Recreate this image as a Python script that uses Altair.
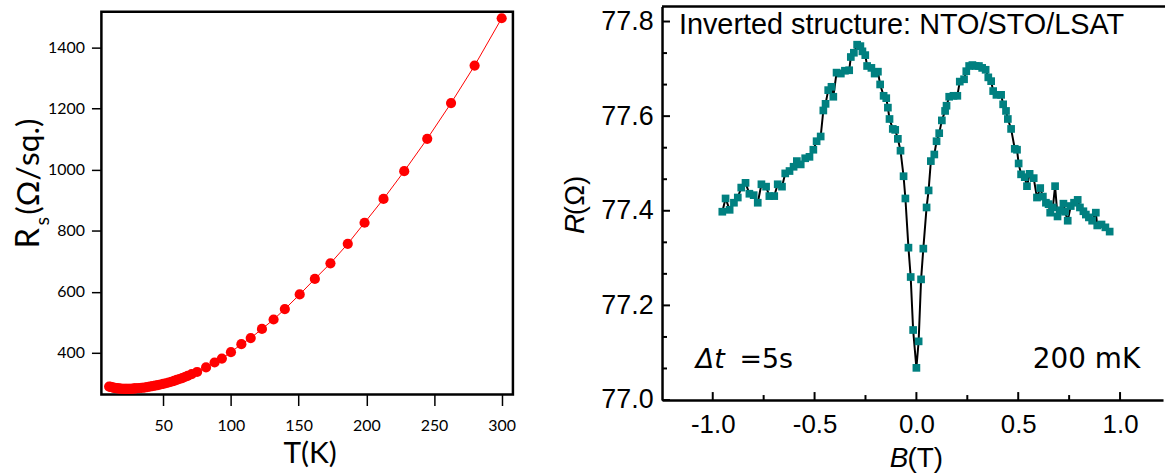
import altair as alt
import pandas as pd

# ---------------- Left panel data: sheet resistance vs temperature ----------------
T_K = [10, 11, 12, 13, 14, 15, 16, 17, 18, 19, 20, 21, 22, 23, 24, 25, 26, 27, 28, 29, 30,
       32, 34, 36, 38, 40, 42, 44, 46, 48, 50, 52, 54, 56, 58, 60, 62, 64, 66, 68,
       71, 75, 81.6, 87.9, 93.3, 100, 107.7, 114.6, 122.9, 131.5, 139.8, 150.8,
       162, 173.5, 186.3, 198.7, 212.7, 228, 245, 262.6, 280, 300]
RS = [289, 288, 287, 286, 285, 284, 283.5, 283, 282.5, 282, 282, 281.5, 281.5, 281.5, 281.5, 281.5, 282, 282, 282.5, 283, 283.5,
      284, 285, 286, 287.5, 289, 290.5, 292, 294, 296, 298, 300, 302.5, 305, 308, 311, 314, 317, 320.5, 324,
      330, 337, 352, 368, 381, 402, 428, 448, 478, 509, 543, 591,
      642, 693, 757, 826, 904, 995, 1101, 1218, 1341, 1496]
T_TICKS = [50, 100, 150, 200, 250, 300]
RS_TICKS = [400, 600, 800, 1000, 1200, 1400]

# ---------------- Right panel data: magnetoresistance ----------------
B_T = [-0.953, -0.937, -0.917, -0.896, -0.877, -0.860, -0.839, -0.820, -0.799, -0.779,
       -0.761, -0.738, -0.722, -0.698, -0.681, -0.660, -0.644, -0.623, -0.603, -0.587,
       -0.568, -0.546, -0.525, -0.506, -0.490, -0.470, -0.457, -0.446, -0.433, -0.417,
       -0.408, -0.392, -0.371, -0.351, -0.330, -0.322, -0.307, -0.291, -0.275, -0.265,
       -0.251, -0.242, -0.221, -0.205, -0.189, -0.178, -0.161, -0.148, -0.140, -0.132,
       -0.116, -0.104, -0.091, -0.078, -0.063, -0.054,
       -0.039, -0.028, -0.016, 0.000, 0.011, 0.023, 0.034,
       0.050, 0.060, 0.071, 0.088, 0.099, 0.112, 0.125, 0.141, 0.148, 0.161,
       0.182, 0.201, 0.213, 0.234, 0.245, 0.259, 0.275, 0.291, 0.307, 0.323,
       0.340, 0.353, 0.367, 0.377, 0.393, 0.416, 0.426, 0.440, 0.449, 0.465,
       0.483, 0.494, 0.502, 0.514, 0.532, 0.543, 0.556, 0.576, 0.592, 0.608,
       0.621, 0.636, 0.649, 0.657, 0.670, 0.681, 0.693, 0.705, 0.722, 0.730,
       0.743, 0.758, 0.774, 0.792, 0.803, 0.820, 0.832, 0.847, 0.863, 0.881,
       0.888, 0.909, 0.928, 0.949]
R_OHM = [77.398, 77.426, 77.402, 77.417, 77.428, 77.449, 77.459, 77.436, 77.433, 77.417,
         77.456, 77.451, 77.431, 77.431, 77.456, 77.451, 77.479, 77.484, 77.493, 77.505,
         77.498, 77.511, 77.514, 77.529, 77.547, 77.557, 77.612, 77.626, 77.655, 77.662,
         77.641, 77.692, 77.690, 77.696, 77.697, 77.725, 77.734, 77.751, 77.748, 77.737,
         77.729, 77.706, 77.702, 77.690, 77.694, 77.667, 77.643, 77.638, 77.618, 77.594,
         77.573, 77.571, 77.552, 77.527, 77.473, 77.426,
         77.322, 77.260, 77.148, 77.068, 77.124, 77.255, 77.320,
         77.407, 77.443, 77.505, 77.519, 77.547, 77.564, 77.591, 77.611, 77.622, 77.641,
         77.643, 77.643, 77.673, 77.678, 77.695, 77.706, 77.708, 77.706, 77.706, 77.702,
         77.698, 77.682, 77.674, 77.653, 77.645, 77.645, 77.625, 77.611, 77.594, 77.573,
         77.531, 77.529, 77.500, 77.477, 77.471, 77.452, 77.478, 77.469, 77.428, 77.448,
         77.430, 77.417, 77.414, 77.396, 77.407, 77.452, 77.388, 77.401, 77.415, 77.398,
         77.379, 77.410, 77.417, 77.423, 77.407, 77.399, 77.392, 77.386, 77.379, 77.396,
         77.369, 77.371, 77.365, 77.356]
B_TICKS = [-1.0, -0.5, 0.0, 0.5, 1.0]
B_MINOR = [-0.75, -0.25, 0.25, 0.75]
R_TICKS = [77.0, 77.2, 77.4, 77.6, 77.8]
R_MINOR = [77.0667, 77.1333, 77.2667, 77.3333, 77.4667, 77.5333, 77.6667, 77.7333]

TEXT_TITLE = ["Inverted structure: NTO/STO/LSAT"]
TEXT_DT_ITALIC = ["\u0394t"]
TEXT_DT_REST = ["=5s"]
TEXT_TEMP = ["200 mK"]

FONT_L = "Lato"
FONT_R = "Liberation Sans"
FONT_D = "DejaVu Sans"

W_L, H_L = 414, 385
W_R, H_R = 504, 396


def one(text):
    return pd.DataFrame({"label": text})


def txt(text, x, y, size, font, align="left", angle=0, style="normal", baseline="alphabetic"):
    kw = dict(fontSize=size, font=font, align=align, baseline=baseline, color="black", fontStyle=style)
    if angle:
        kw["angle"] = angle
    return alt.Chart(one(text)).mark_text(**kw).encode(
        x=alt.value(x), y=alt.value(y), text="label:N")


# ---------------- Left panel ----------------
left_df = pd.DataFrame({"T": T_K, "Rs": RS})
xs_L = alt.Scale(domain=[4.3, 308.3], nice=False, zero=False)
ys_L = alt.Scale(domain=[263, 1517], nice=False, zero=False)

base_L = alt.Chart(left_df).encode(
    x=alt.X("T:Q", scale=xs_L, axis=alt.Axis(
        values=T_TICKS, format="d", title="", grid=False, domain=False, tickSize=11, tickWidth=1.5,
        tickColor="black", labelPadding=12, labelFontSize=16, labelFont=FONT_L,
        labelColor="black")),
    y=alt.Y("Rs:Q", scale=ys_L, axis=alt.Axis(
        values=RS_TICKS, format="d", title="", grid=False, domain=False, tickSize=10, tickWidth=1.5,
        tickColor="black", labelPadding=7, labelFontSize=16, labelFont=FONT_L,
        labelColor="black")),
)
line_L = base_L.mark_line(color="#ff0000", strokeWidth=1)
pts_L = base_L.mark_circle(color="#ff0000", size=105, opacity=1)

left = alt.layer(
    line_L, pts_L,
    txt(["T(K)"], 210, 454, 30, FONT_L, align="center"),
    txt(["R"], -63, 238, 33, FONT_L, angle=270),
    txt(["s"], -53, 215, 20, FONT_L, angle=270),
    txt(["(\u03a9/sq.)"], -63, 204, 32, FONT_L, angle=270),
).properties(width=W_L, height=H_L,
             view=alt.ViewBackground(stroke="black", strokeWidth=2.5))

# ---------------- Right panel ----------------
right_df = pd.DataFrame({"B": B_T, "R": R_OHM})
xs_R = alt.Scale(domain=[-1.249, 1.211], nice=False, zero=False)
ys_R = alt.Scale(domain=[77.0, 77.832], nice=False, zero=False)

AX_B = alt.Axis(
    values=B_TICKS, title="", grid=False, ticks=False, labelPadding=12,
    labelFontSize=26, labelFont=FONT_R, labelColor="black",
    labelExpr="datum.value < 0 ? '-' + format(-datum.value, '.1f') : format(datum.value, '.1f')",
    domainColor="black", domainWidth=2.5)
AX_R = alt.Axis(
    values=R_TICKS, format=".1f", title="", grid=False, ticks=False, labelPadding=9,
    labelFontSize=27, labelFont=FONT_R, labelColor="black",
    domainColor="black", domainWidth=2.5)

base_R = alt.Chart(right_df).encode(
    x=alt.X("B:Q", scale=xs_R, axis=AX_B),
    y=alt.Y("R:Q", scale=ys_R, axis=AX_R),
)
line_R = base_R.mark_line(color="black", strokeWidth=2)
pts_R = base_R.mark_square(color="#008080", size=60, opacity=1)


def yticks(vals, length):
    return alt.Chart(pd.DataFrame({"R": vals})).mark_rule(color="black", strokeWidth=2).encode(
        y=alt.Y("R:Q", scale=ys_R, axis=AX_R), x=alt.value(0), x2=alt.value(length))


def xticks(vals, length):
    return alt.Chart(pd.DataFrame({"B": vals})).mark_rule(color="black", strokeWidth=2).encode(
        x=alt.X("B:Q", scale=xs_R, axis=AX_B), y=alt.value(H_R), y2=alt.value(H_R - length))


top_frame = alt.Chart(one(["frame"])).mark_rule(color="black", strokeWidth=2.5).encode(
    x=alt.value(0), x2=alt.value(W_R + 2), y=alt.value(0))

right = alt.layer(
    line_R, pts_R,
    yticks(R_TICKS, 8), yticks(R_MINOR, 5), xticks(B_TICKS, 8), xticks(B_MINOR, 5),
    top_frame,
    txt(TEXT_TITLE, 17, 28, 29, FONT_R),
    txt(TEXT_DT_ITALIC, 34, 364, 27, FONT_D, style="italic"),
    txt(TEXT_DT_REST, 78, 364, 27, FONT_D),
    txt(TEXT_TEMP, 481, 364, 28, FONT_D, align="right"),
    txt(["R"], -78, 229, 28, FONT_R, angle=270, style="italic"),
    txt(["(\u03a9)"], -78, 210, 28, FONT_R, angle=270),
    txt(["B"], 229, 463, 28, FONT_R, style="italic"),
    txt(["(T)"], 247, 463, 28, FONT_R),
).properties(width=W_R, height=H_R,
             view=alt.ViewBackground(strokeOpacity=0))

chart = alt.hconcat(left, right, spacing=150, bounds="flush", center=True).properties(
    padding={"left": 11, "top": 3, "right": 0, "bottom": 0},
    background="white",
)

chart.save("out.html", embed_options={"renderer": "svg", "actions": False})
